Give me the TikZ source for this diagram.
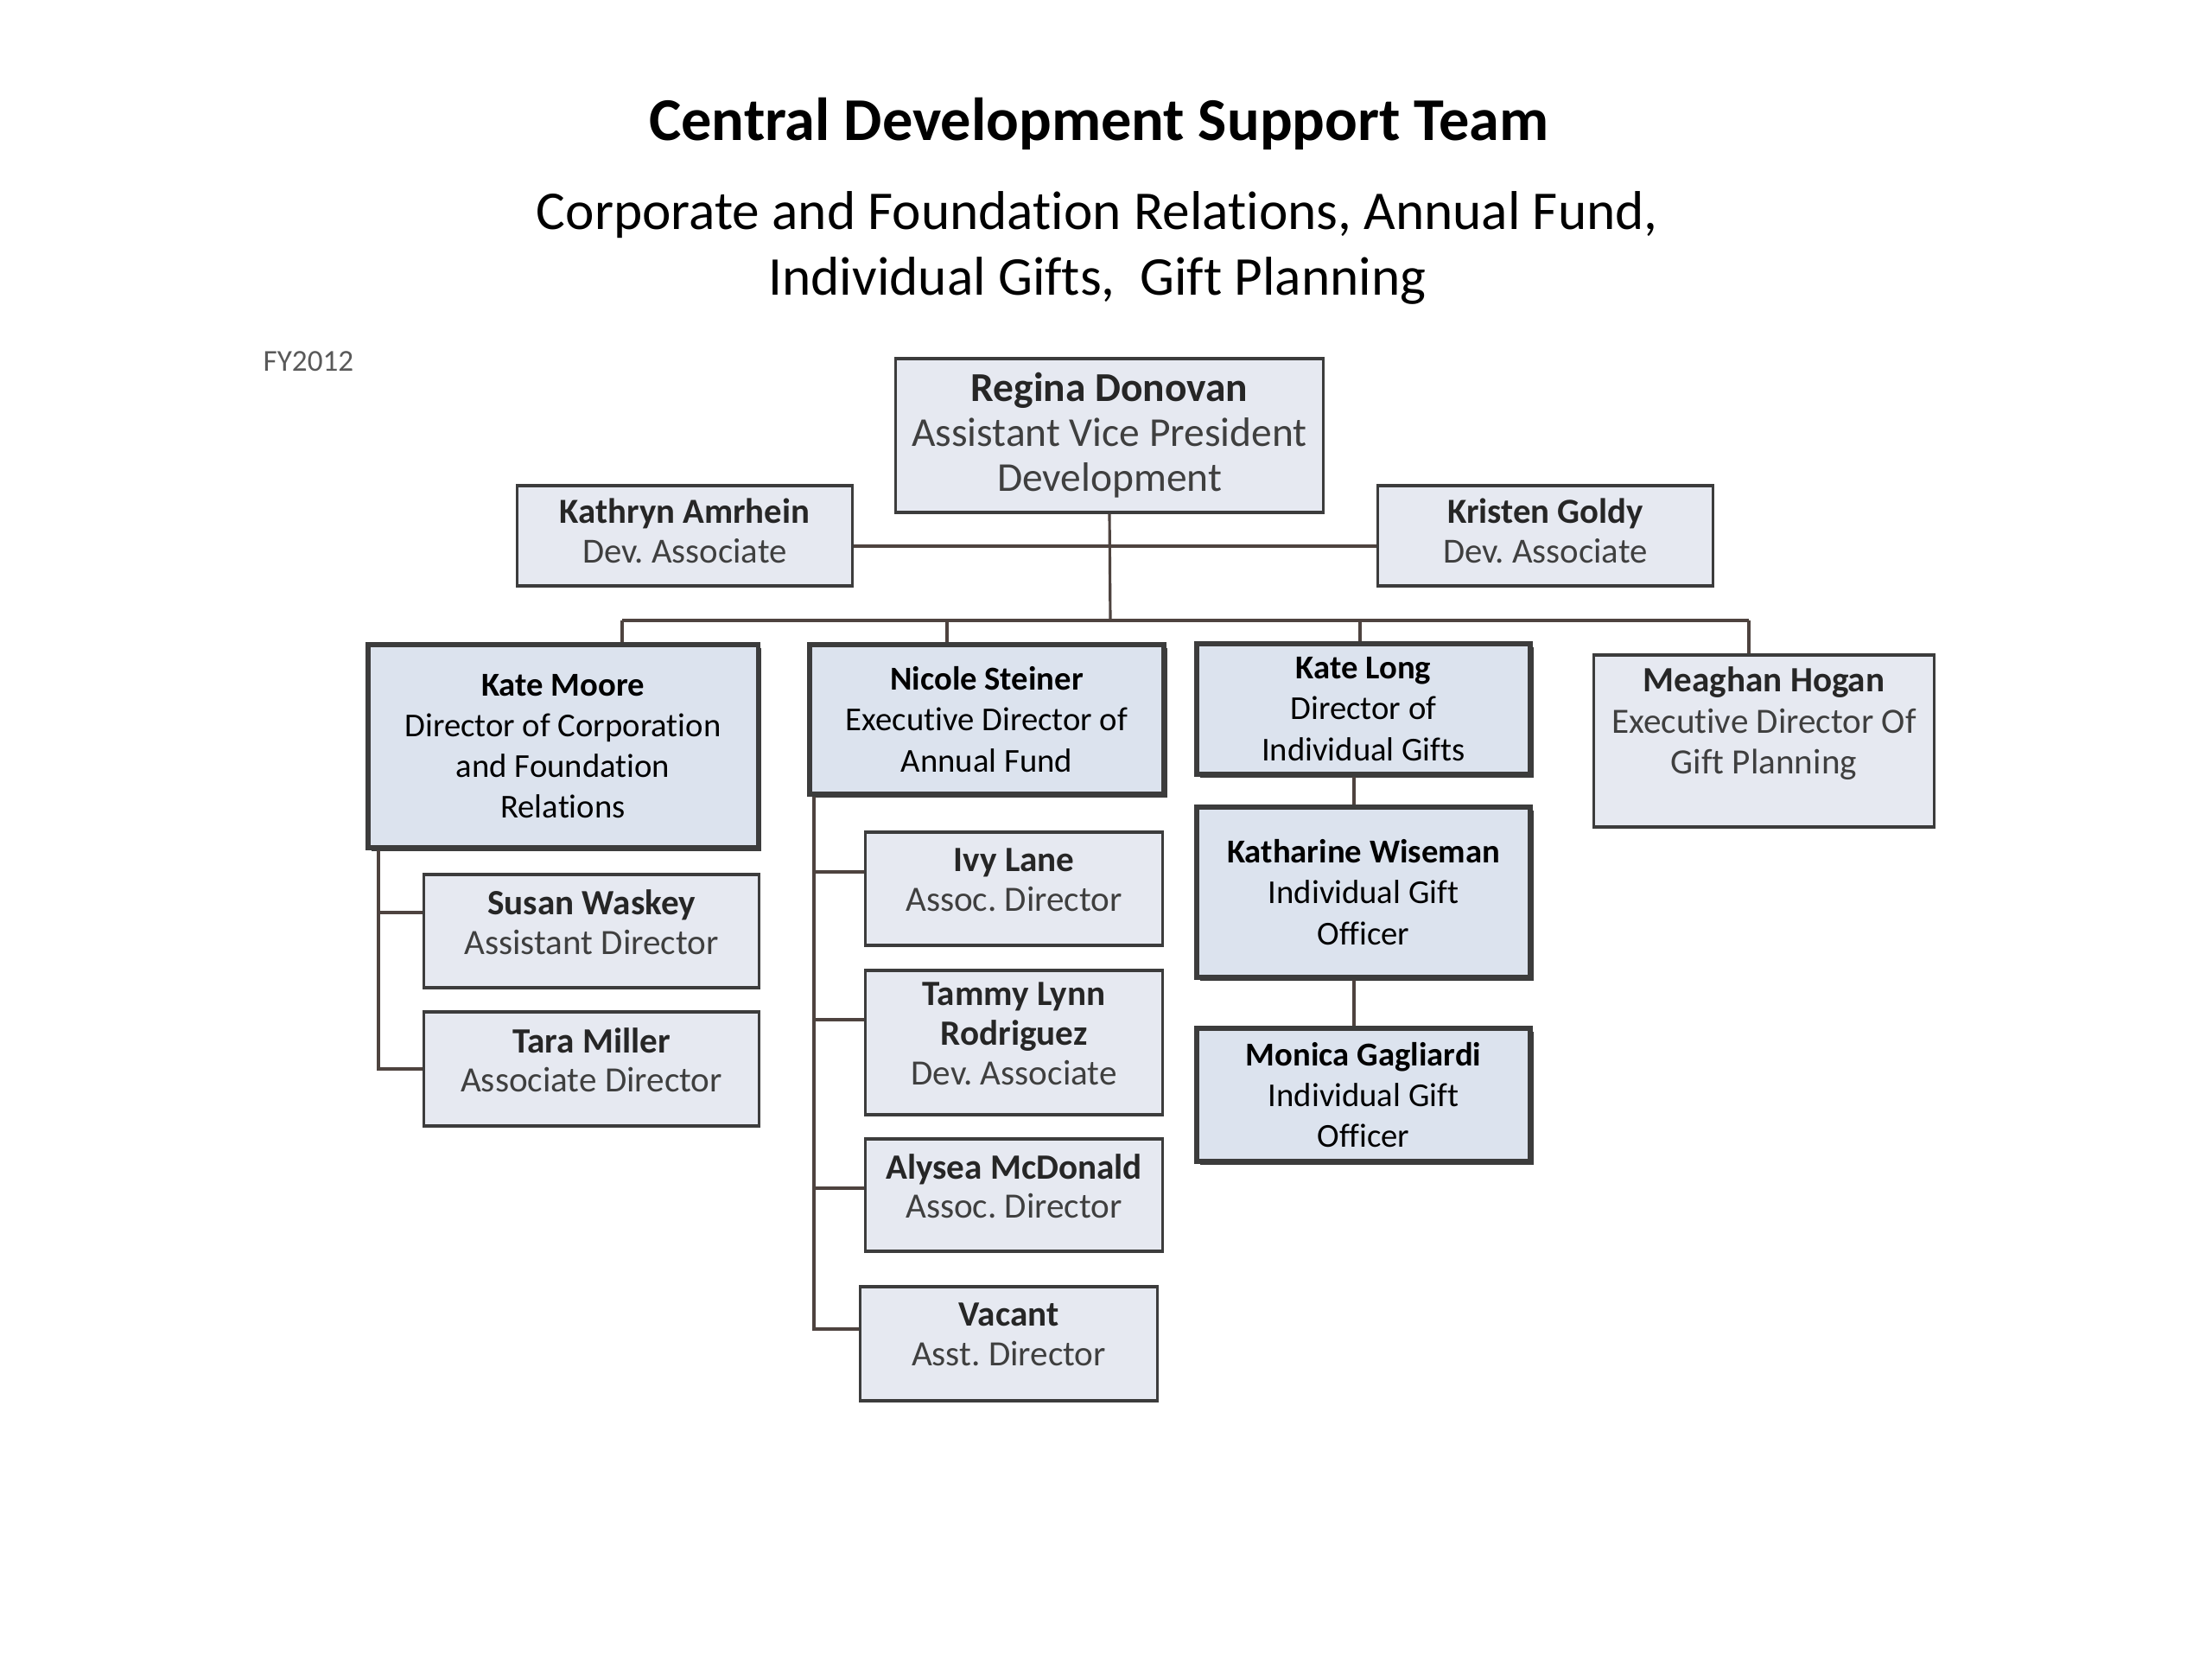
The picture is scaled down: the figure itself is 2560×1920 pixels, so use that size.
\documentclass[tikz,border=0pt]{standalone}
\usepackage{fontspec}
\setmainfont[Ligatures={NoCommon}]{Carlito}
\usetikzlibrary{shadows,calc}
\definecolor{thinfill}{HTML}{E6E9F1}
\definecolor{thickfill}{HTML}{DCE3EE}
\definecolor{edge}{HTML}{3C3C3C}
\definecolor{wire}{HTML}{4E433F}
\definecolor{subtext}{HTML}{3F3F3F}
\definecolor{nametext}{HTML}{262626}
\begin{document}
\frenchspacing
\begin{tikzpicture}[x=0.01cm,y=-0.01cm,
  thinbox/.style={draw=edge, line width=0.9pt, fill=thinfill, align=center, inner sep=2pt,
    text=subtext, font=\fontsize{11.7}{13}\selectfont, text depth=6pt,
    drop shadow={shadow xshift=0.015cm, shadow yshift=-0.02cm, fill=edge, opacity=1}},
  thickbox/.style={draw=edge, line width=1.5pt, fill=thickfill, align=center, inner sep=2pt,
    text=black, font=\fontsize{11}{13.4}\selectfont,
    drop shadow={shadow xshift=0.04cm, shadow yshift=-0.04cm, fill=edge, opacity=1}},
  topbox/.style={thinbox, font=\fontsize{13.5}{14.8}\selectfont, text depth=},
  wireline/.style={draw=wire, line width=0.9pt}]
\fill[white] (0,0) rectangle (2560,1920);
\useasboundingbox (0,0) rectangle (2560,1920);

% titles
\node[font=\fontsize{20}{24}\selectfont\bfseries] (title) at (1272,143) {Central Development Support Team};
\node[align=center, font=\fontsize{18}{21.8}\selectfont] (subtitle) at (1270,287)
  {Corporate and Foundation Relations, Annual Fund,\\Individual Gifts,\ \ Gift Planning};
\node[font=\fontsize{10}{12}\selectfont, text=black!65] (fy) at (357,418) {FY2012};

% boxes
\node[topbox, minimum width=4.94cm, minimum height=1.78cm] (regina) at (1284,504)
  {\textbf{\color{nametext}Regina Donovan}\\Assistant Vice President\\Development};
\node[thinbox, font=\fontsize{11.6}{13}\selectfont, text depth=3.5pt, minimum width=3.87cm, minimum height=1.16cm] (kathryn) at (792.5,620)
  {\textbf{\color{nametext}Kathryn Amrhein}\\Dev. Associate};
\node[thinbox, font=\fontsize{11.6}{13}\selectfont, text depth=3.5pt, minimum width=3.87cm, minimum height=1.16cm] (kristen) at (1788.5,620)
  {\textbf{\color{nametext}Kristen Goldy}\\Dev. Associate};

\node[thickbox, minimum width=4.51cm, minimum height=2.35cm] (moore) at (651.5,863.5)
  {\textbf{Kate Moore}\\Director of Corporation\\and Foundation\\Relations};
\node[thickbox, minimum width=4.10cm, minimum height=1.73cm] (nicole) at (1142,832.5)
  {\textbf{Nicole Steiner}\\Executive Director of\\Annual Fund};
\node[thickbox, minimum width=3.86cm, minimum height=1.51cm] (long) at (1578,820.5)
  {\textbf{Kate Long}\\Director of\\Individual Gifts};
\node[thinbox, font=\fontsize{11.7}{13.5}\selectfont, text depth=0pt, minimum width=3.93cm, minimum height=1.99cm] (meaghan) at (2041.5,857.5)
  {\textbf{\color{nametext}Meaghan Hogan}\\Executive Director Of\\Gift Planning\\\mbox{}};

\node[thinbox, minimum width=3.87cm, minimum height=1.31cm] (susan) at (684.5,1077.5)
  {\textbf{\color{nametext}Susan Waskey}\\Assistant Director};
\node[thinbox, minimum width=3.87cm, minimum height=1.32cm] (tara) at (684.5,1237)
  {\textbf{\color{nametext}Tara Miller}\\Associate Director};

\node[thinbox, minimum width=3.43cm, minimum height=1.31cm] (ivy) at (1173.5,1028.5)
  {\textbf{\color{nametext}Ivy Lane}\\Assoc. Director};
\node[thinbox, minimum width=3.43cm, minimum height=1.67cm] (tammy) at (1173.5,1206.5)
  {\textbf{\color{nametext}Tammy Lynn}\\\textbf{\color{nametext}Rodriguez}\\Dev. Associate};
\node[thinbox, minimum width=3.43cm, minimum height=1.30cm] (alysea) at (1173.5,1383)
  {\textbf{\color{nametext}Alysea McDonald}\\Assoc. Director};
\node[thinbox, minimum width=3.43cm, minimum height=1.32cm] (vacant) at (1167.5,1555)
  {\textbf{\color{nametext}Vacant}\\Asst. Director};

\node[thickbox, minimum width=3.86cm, minimum height=1.97cm] (katharine) at (1578,1032.5)
  {\textbf{Katharine Wiseman}\\Individual Gift\\Officer};
\node[thickbox, minimum width=3.86cm, minimum height=1.54cm] (monica) at (1578,1267)
  {\textbf{Monica Gagliardi}\\Individual Gift\\Officer};

% connector coordinates
\coordinate (asst) at (1285,632);
\coordinate (bus) at (1285,718);
\coordinate (busL) at (720,718);
\coordinate (busN) at (1096,718);
\coordinate (busK) at (1574,718);
\coordinate (busR) at (2024,718);
\coordinate (mx) at (438,0);
\coordinate (nx) at (942,0);
\coordinate (kx) at (1567,0);
\coordinate (susanpt) at ([yshift=0.215cm]susan.west);
\coordinate (ivypt) at ([yshift=0.195cm]ivy.west);
\coordinate (tammypt) at ([yshift=0.265cm]tammy.west);
\coordinate (alyseapt) at ([yshift=0.08cm]alysea.west);
\coordinate (vacantpt) at ([yshift=0.17cm]vacant.west);

% connectors
\draw[wireline] (kathryn.east |- asst) -- (kristen.west |- asst);
\draw[wireline] (regina.south) -- (bus);
\draw[wireline] (busL) -- (busR);
\draw[wireline] (busL) -- (busL |- moore.north);
\draw[wireline] (busN) -- (busN |- nicole.north);
\draw[wireline] (busK) -- (busK |- long.north);
\draw[wireline] (busR) -- (busR |- meaghan.north);

\draw[wireline] (mx |- moore.south) -- (mx |- tara.west) -- (tara.west);
\draw[wireline] (mx |- susanpt) -- (susanpt);

\draw[wireline] (nx |- nicole.south) -- (nx |- vacantpt) -- (vacantpt);
\draw[wireline] (nx |- ivypt) -- (ivypt);
\draw[wireline] (nx |- tammypt) -- (tammypt);
\draw[wireline] (nx |- alyseapt) -- (alyseapt);

\draw[wireline] (kx |- long.south) -- (kx |- katharine.north);
\draw[wireline] (kx |- katharine.south) -- (kx |- monica.north);
\end{tikzpicture}
\end{document}
